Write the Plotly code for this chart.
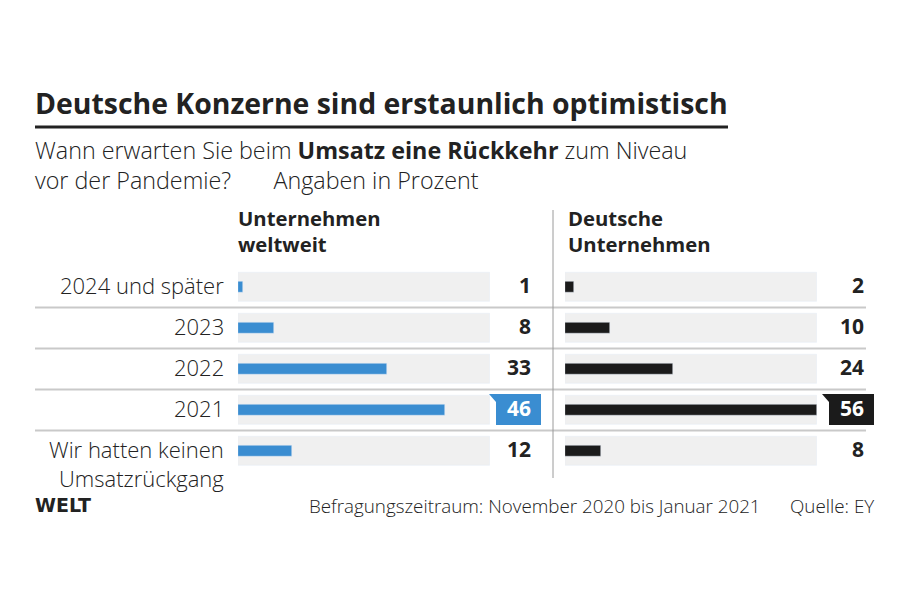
import plotly.graph_objects as go

# ---------------- data ----------------
categories = ["2024 und später", "2023", "2022", "2021", "Wir hatten keinen<br>Umsatzrückgang"]
weltweit = [1, 8, 33, 46, 12]
deutsche = [2, 10, 24, 56, 8]
highlight = "2021"
axis_max = 56
col_left_title = "Unternehmen<br>weltweit"
col_right_title = "Deutsche<br>Unternehmen"

W, H = 910, 606
BLUE = "#3a8dd1"
BLACK = "#1b1b1b"
BG = "#f0f0f0"
TXT = "#222222"
FONT = "Open Sans"

def px(x):
    return x / W

def py(y):
    return 1 - y / H

LEFT_DOM = [px(238), px(490)]
RIGHT_DOM = [px(565), px(817)]

idx = list(range(len(categories)))

fig = go.Figure()
# background rails
fig.add_trace(go.Bar(y=idx, x=[axis_max] * len(idx), orientation="h", marker_color=BG,
                     width=0.72, xaxis="x", yaxis="y", hoverinfo="skip", showlegend=False))
fig.add_trace(go.Bar(y=idx, x=[axis_max] * len(idx), orientation="h", marker_color=BG,
                     width=0.72, xaxis="x2", yaxis="y", hoverinfo="skip", showlegend=False))
# data bars
fig.add_trace(go.Bar(y=idx, x=weltweit, orientation="h", marker_color=BLUE, width=0.27,
                     xaxis="x", yaxis="y", showlegend=False))
fig.add_trace(go.Bar(y=idx, x=deutsche, orientation="h", marker_color=BLACK, width=0.27,
                     xaxis="x2", yaxis="y", showlegend=False))

annotations = []
shapes = []

# value labels
for axis, dom, vals, shift, col in (("x", LEFT_DOM, weltweit, 43, BLUE),
                                     ("x2", RIGHT_DOM, deutsche, 49, BLACK)):
    for i, (c, v) in enumerate(zip(categories, vals)):
        hl = (c == highlight)
        annotations.append(dict(
            x=axis_max, y=i, xref=axis, yref="y", xanchor="right", yanchor="middle",
            xshift=shift, yshift=2, text=f"<b>{v}</b>", showarrow=False,
            font=dict(family=FONT, size=21, color="white" if hl else TXT)))
        if hl:
            br = shift + 8
            bl = br - 45
            tip = bl - 7
            shapes.append(dict(
                type="path", xref="paper", yref="y", xsizemode="pixel", ysizemode="pixel",
                xanchor=dom[1], yanchor=i,
                path=f"M {tip},16 L {br},16 L {br},-15 L {bl},-15 L {bl},8 Z",
                fillcolor=col, line=dict(width=0), layer="above"))

# category labels
for i, c in enumerate(categories):
    annotations.append(dict(
        x=px(226), y=i, xref="paper", yref="y", xanchor="right", yanchor="top",
        yshift=19, text=c, showarrow=False, align="right",
        font=dict(family=FONT, size=22, color=TXT, weight=300)))

# separators between rows
for i in range(len(categories) - 1):
    shapes.append(dict(type="line", xref="paper", yref="y", x0=px(35), x1=px(866),
                       y0=i + 0.5, y1=i + 0.5, line=dict(color="#c9c9c9", width=2)))

# vertical divider
shapes.append(dict(type="line", xref="paper", yref="paper", x0=px(553), x1=px(553),
                   y0=py(210), y1=py(478), line=dict(color="#9a9a9a", width=1)))

# title underline
shapes.append(dict(type="line", xref="paper", yref="paper", x0=px(35), x1=px(728),
                   y0=py(127), y1=py(127), line=dict(color=TXT, width=3)))

def txt(x, y, text, size, weight=400, xanchor="left", yanchor="middle", color=TXT, family=FONT):
    annotations.append(dict(x=px(x), y=py(y), xref="paper", yref="paper", xanchor=xanchor,
                            yanchor=yanchor, text=text, showarrow=False, align="left",
                            font=dict(family=family, size=size, color=color, weight=weight)))

GAP = "\u00a0" * 7
txt(33, 103, "<b>Deutsche Konzerne sind erstaunlich optimistisch</b>", 28.4)
txt(33, 165, "Wann erwarten Sie beim <b>Umsatz eine Rückkehr</b> zum Niveau<br>"
             "vor der Pandemie?" + GAP + "Angaben in Prozent", 23.3, 300)

txt(236, 202, f"<b>{col_left_title}</b>", 20.3, yanchor="top")
txt(566, 202, f"<b>{col_right_title}</b>", 20.3, yanchor="top")

txt(33, 505, "<b>WELT</b>", 19, family="DejaVu Sans")
txt(307, 506, "Befragungszeitraum: November 2020 bis Januar 2021", 18.8, 300)
txt(876, 506, "Quelle: EY", 18.8, 300, xanchor="right")

fig.update_layout(
    width=W, height=H, margin=dict(l=0, r=0, t=0, b=0),
    paper_bgcolor="white", plot_bgcolor="white",
    barmode="overlay", bargap=0,
    xaxis=dict(domain=LEFT_DOM, range=[0, axis_max], visible=False, fixedrange=True),
    xaxis2=dict(domain=RIGHT_DOM, range=[0, axis_max], visible=False, anchor="y",
                fixedrange=True),
    yaxis=dict(domain=[py(471.5), py(266.5)], range=[len(categories) - 0.5, -0.5],
               visible=False, fixedrange=True),
    annotations=annotations, shapes=shapes,
)

fig.write_html("out.html", config={"displayModeBar": False},
               post_script="document.body.style.margin='0';document.body.style.overflow='hidden';")
